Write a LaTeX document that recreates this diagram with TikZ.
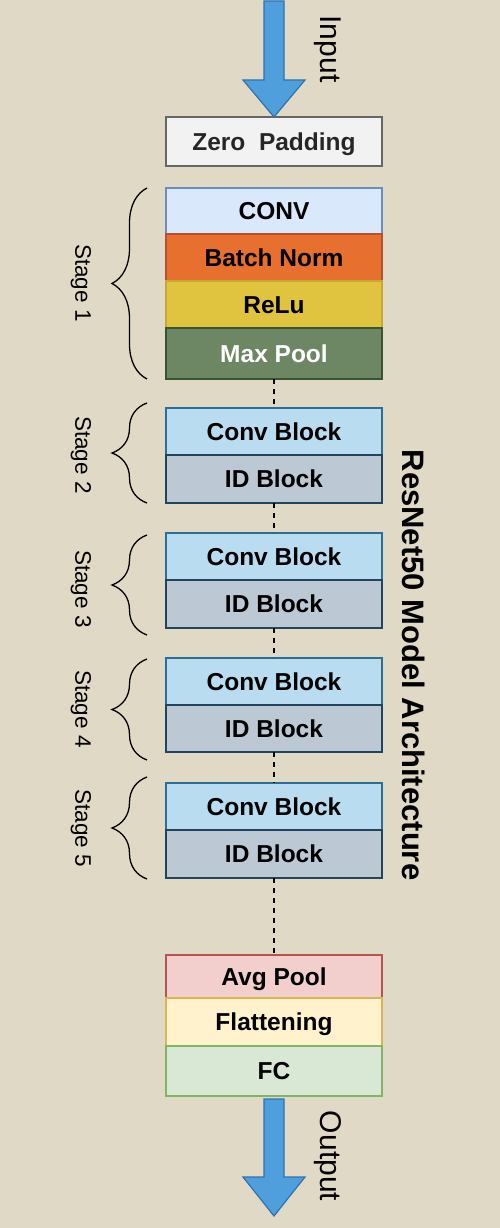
\documentclass[tikz,border=0pt]{standalone}
\usepackage{fontspec}
\setmainfont{Liberation Sans}
\usepackage{xcolor}
\usepackage{tikz}
\usetikzlibrary{positioning,decorations.pathreplacing}
\definecolor{paper}{HTML}{E0D9C6}
\definecolor{flowblue}{HTML}{4F9FDC}
\definecolor{flowedge}{HTML}{2F72B0}
\definecolor{padfill}{HTML}{F2F2F2}
\definecolor{padedge}{HTML}{666666}
\definecolor{convfill}{HTML}{DAE8FC}
\definecolor{convedge}{HTML}{6C8EBF}
\definecolor{bnfill}{HTML}{E8702E}
\definecolor{bnedge}{HTML}{B8502E}
\definecolor{relufill}{HTML}{E0C43F}
\definecolor{reluedge}{HTML}{C8A832}
\definecolor{poolfill}{HTML}{6D8764}
\definecolor{pooledge}{HTML}{3A5431}
\definecolor{blkfill}{HTML}{B9DCF0}
\definecolor{blkedge}{HTML}{2A6E99}
\definecolor{idfill}{HTML}{BCC8D3}
\definecolor{idedge}{HTML}{23445D}
\definecolor{avgfill}{HTML}{F2CFCC}
\definecolor{avgedge}{HTML}{B85450}
\definecolor{flatfill}{HTML}{FFF2CC}
\definecolor{flatedge}{HTML}{D6B656}
\definecolor{fcfill}{HTML}{D9E8D4}
\definecolor{fcedge}{HTML}{82B366}
\newcommand{\layertext}[1]{{\fontsize{24.5}{27}\selectfont\bfseries #1}}
\newcommand{\stagetext}[1]{{\fontsize{22.5}{26}\selectfont #1}}
\newcommand{\flowtext}[1]{{\fontsize{30}{33}\selectfont #1}}
\newcommand{\archtitle}[1]{{\fontsize{31}{34}\selectfont\bfseries #1}}

\begin{document}
\begin{tikzpicture}[x=1pt, y=-1pt,
    layer/.style={draw, line width=1.3pt, minimum width=216pt, inner sep=0pt,
                  outer sep=0pt, text height=17.5pt, text depth=0pt},
    convblk/.style={layer, fill=blkfill, draw=blkedge, minimum height=47pt},
    idblk/.style={layer, fill=idfill, draw=idedge, minimum height=48pt},
    bigarrow/.style={fill=flowblue, draw=flowedge, line width=1.2pt, line join=miter},
    stagebrace/.style={decorate, decoration={brace, amplitude=35pt}, line width=1.3pt},
    gap/.style={dashed, dash pattern=on 5pt off 5pt, line width=1.3pt}]
\fill[paper] (0,0) rectangle (500,1228);
\useasboundingbox (0,0) rectangle (500,1228);

\node[layer, fill=padfill, draw=padedge, minimum height=49pt, anchor=north, text=black!85]
    (zeropad) at (274,117) {\layertext{Zero\ \ Padding}};

% stage 1
\node[layer, fill=convfill, draw=convedge, minimum height=46pt, anchor=north]
    (conv1) at (274,188) {\layertext{CONV}};
\node[layer, fill=bnfill, draw=bnedge, minimum height=47pt, below=0pt of conv1]
    (batchnorm) {\layertext{Batch Norm}};
\node[layer, fill=relufill, draw=reluedge, minimum height=47pt, below=0pt of batchnorm]
    (relu) {\layertext{ReLu}};
\node[layer, fill=poolfill, draw=pooledge, minimum height=51pt, text=white, below=0pt of relu]
    (maxpool) {\layertext{Max Pool}};

% stages 2-5
\node[convblk, anchor=north] (conv2) at (274,408) {\layertext{Conv Block}};
\node[idblk, below=0pt of conv2] (id2) {\layertext{ID Block}};
\node[convblk, anchor=north] (conv3) at (274,533) {\layertext{Conv Block}};
\node[idblk, below=0pt of conv3] (id3) {\layertext{ID Block}};
\node[convblk, anchor=north] (conv4) at (274,658) {\layertext{Conv Block}};
\node[idblk, minimum height=47pt, below=0pt of conv4] (id4) {\layertext{ID Block}};
\node[convblk, anchor=north] (conv5) at (274,783) {\layertext{Conv Block}};
\node[idblk, below=0pt of conv5] (id5) {\layertext{ID Block}};

% head
\node[layer, fill=avgfill, draw=avgedge, minimum height=43pt, anchor=north]
    (avgpool) at (274,955) {\layertext{Avg Pool}};
\node[layer, fill=flatfill, draw=flatedge, minimum height=48pt, below=0pt of avgpool]
    (flatten) {\layertext{Flattening}};
\node[layer, fill=fcfill, draw=fcedge, minimum height=50pt, below=0pt of flatten]
    (fc) {\layertext{FC}};

\foreach \a/\b in {maxpool/conv2, id2/conv3, id3/conv4, id4/conv5, id5/avgpool}
    \draw[gap] (\a.south) -- (\b.north);

% in / out arrows
\draw[bigarrow] (264,1) -- (284,1) -- (284,80) -- (305,80) -- (zeropad.north)
    -- (243,80) -- (264,80) -- cycle;
\coordinate (outtip) at (274,1216);
\draw[bigarrow] (264,1099) -- (284,1099) -- (284,1177) -- (305,1177) -- (outtip)
    -- (243,1177) -- (264,1177) -- cycle;
\node[rotate=-90] (inlabel) at (328,49) {\flowtext{Input}};
\node[rotate=-90] (outlabel) at (328,1156) {\flowtext{Output}};

% braces
\draw[stagebrace] (147,379) -- (147,188);
\draw[stagebrace] (147,503) -- (147,403);
\draw[stagebrace] (147,635) -- (147,535);
\draw[stagebrace] (147,760) -- (147,659);
\draw[stagebrace] (147,879) -- (147,777);
\node[rotate=-90] (stage1) at (81,283) {\stagetext{Stage 1}};
\node[rotate=-90] (stage2) at (81,455) {\stagetext{Stage 2}};
\node[rotate=-90] (stage3) at (81,589) {\stagetext{Stage 3}};
\node[rotate=-90] (stage4) at (81,709) {\stagetext{Stage 4}};
\node[rotate=-90] (stage5) at (81,828) {\stagetext{Stage 5}};

\node[rotate=-90] (title) at (414,665) {\archtitle{ResNet50 Model Architecture}};
\end{tikzpicture}
\end{document}
